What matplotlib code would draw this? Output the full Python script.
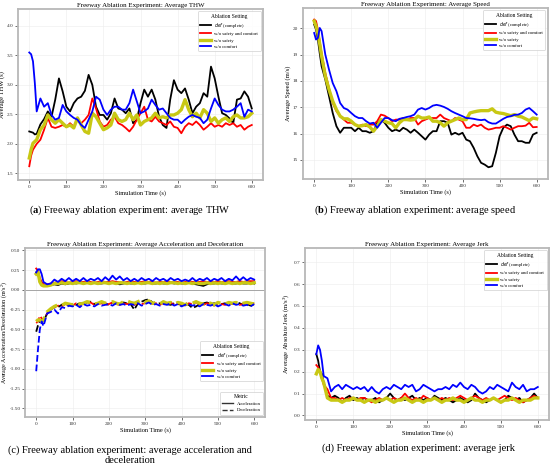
import numpy as np
import matplotlib
matplotlib.use('Agg')
import matplotlib.pyplot as plt
from matplotlib.lines import Line2D

plt.rcParams['font.family'] = ['Liberation Serif', 'DejaVu Sans']
plt.rcParams['mathtext.fontset'] = 'custom'
plt.rcParams['mathtext.rm'] = 'Liberation Serif'
plt.rcParams['mathtext.bf'] = 'Liberation Serif:bold'
plt.rcParams['mathtext.it'] = 'DejaVu Sans:italic'

# simulation time (s)
t = [0, 5, 10, 15] + list(range(20, 601, 10))

settings = ['$def$ (complete)', 'w/o safety and comfort', 'w/o safety', 'w/o comfort']
colors = ['black', 'red', '#c8c814', 'blue']
widths = [1.3, 1.3, 2.4, 1.3]

# (a) average THW
thw_def = [2.21, 2.20, 2.19, 2.16, 2.17, 2.33, 2.42, 2.55, 2.46, 2.75, 3.11, 2.89, 2.63, 2.55, 2.69,
           2.77, 2.80, 2.90, 3.17, 3.00, 2.63, 2.49, 2.49, 2.41, 2.52, 2.77, 2.60, 2.58, 2.52, 2.60,
           2.35, 2.41, 2.69, 2.92, 2.80, 2.92, 2.75, 2.46, 2.32, 2.27, 2.75, 3.08, 2.92, 2.86, 2.94,
           2.75, 2.52, 2.63, 2.69, 2.86, 2.80, 3.31, 3.11, 2.80, 2.52, 2.49, 2.43, 2.35, 2.75, 2.77,
           2.89, 2.80, 2.60]
thw_nosc = [1.62, 1.80, 1.90, 1.95, 2.00, 2.07, 2.24, 2.44, 2.29, 2.27, 2.29, 2.32, 2.29, 2.35, 2.29,
            2.41, 2.35, 2.41, 2.49, 2.77, 2.60, 2.38, 2.29, 2.32, 2.41, 2.46, 2.35, 2.32, 2.27, 2.21,
            2.29, 2.41, 2.52, 2.63, 2.41, 2.38, 2.46, 2.38, 2.35, 2.32, 2.38, 2.29, 2.27, 2.18, 2.29,
            2.35, 2.32, 2.38, 2.32, 2.24, 2.29, 2.35, 2.29, 2.32, 2.29, 2.35, 2.32, 2.35, 2.29, 2.32,
            2.24, 2.29, 2.32]
thw_nos = [1.76, 1.90, 2.01, 2.04, 2.07, 2.24, 2.32, 2.49, 2.41, 2.35, 2.41, 2.35, 2.29, 2.32, 2.27,
           2.44, 2.32, 2.21, 2.18, 2.52, 2.46, 2.35, 2.24, 2.27, 2.32, 2.52, 2.41, 2.38, 2.41, 2.52,
           2.41, 2.49, 2.32, 2.38, 2.41, 2.44, 2.52, 2.44, 2.46, 2.44, 2.49, 2.49, 2.52, 2.58, 2.75,
           2.58, 2.46, 2.52, 2.44, 2.58, 2.52, 2.38, 2.44, 2.35, 2.41, 2.44, 2.38, 2.46, 2.49, 2.44,
           2.44, 2.46, 2.52]
thw_noc = [3.55, 3.52, 3.40, 3.03, 2.55, 2.77, 2.63, 2.69, 2.49, 2.41, 2.44, 2.66, 2.55, 2.49, 2.44,
           2.41, 2.32, 2.27, 2.41, 2.55, 2.80, 2.75, 2.58, 2.49, 2.58, 2.63, 2.63, 2.58, 2.58, 2.69,
           2.92, 2.72, 2.52, 2.55, 2.60, 2.75, 2.66, 2.58, 2.60, 2.52, 2.44, 2.41, 2.41, 2.35, 2.41,
           2.46, 2.49, 2.46, 2.44, 2.35, 2.41, 2.60, 2.77, 2.66, 2.58, 2.55, 2.55, 2.58, 2.63, 2.69,
           2.46, 2.58, 2.55]

# (b) average speed
spd_def = [20.14, 19.95, 19.57, 19.05, 18.56, 18.05, 17.42, 16.78, 16.28, 16.03, 16.22, 16.22, 16.22,
           16.09, 16.22, 16.09, 16.09, 16.03, 16.09, 16.41, 16.53, 16.41, 16.22, 16.09, 16.15, 16.09,
           16.22, 16.15, 16.03, 16.15, 16.03, 15.90, 15.77, 15.96, 16.09, 16.09, 16.47, 16.47, 16.41,
           15.96, 16.03, 15.96, 16.03, 15.77, 15.71, 15.46, 15.14, 14.89, 14.82, 14.72, 14.76, 15.27,
           15.90, 16.22, 16.34, 16.28, 15.96, 15.71, 15.71, 15.65, 15.65, 15.96, 16.03]
spd_nosc = [20.33, 20.27, 19.95, 19.50, 19.06, 18.30, 17.73, 17.16, 16.85, 16.66, 16.53, 16.41, 16.41,
            16.34, 16.28, 16.34, 16.28, 16.34, 16.34, 16.47, 16.72, 16.68, 16.59, 16.47, 16.53, 16.53,
            16.59, 16.53, 16.59, 16.59, 16.34, 16.47, 16.53, 16.59, 16.59, 16.59, 16.72, 16.59, 16.53,
            16.47, 16.59, 16.53, 16.47, 16.22, 16.22, 16.34, 16.28, 16.34, 16.22, 16.15, 16.18, 16.22,
            16.22, 16.28, 16.22, 16.15, 16.22, 16.28, 16.28, 16.30, 16.41, 16.24, 16.25]
spd_nos = [20.27, 20.08, 19.82, 19.40, 18.94, 18.18, 17.67, 17.23, 16.91, 16.66, 16.56, 16.56, 16.47,
           16.34, 16.28, 16.30, 16.34, 16.25, 16.09, 16.28, 16.53, 16.47, 16.41, 16.38, 16.22, 16.41,
           16.53, 16.53, 16.51, 16.53, 16.66, 16.59, 16.59, 16.63, 16.47, 16.47, 16.41, 16.28, 16.41,
           16.47, 16.53, 16.59, 16.53, 16.53, 16.78, 16.82, 16.85, 16.87, 16.87, 16.87, 16.94, 16.81,
           16.78, 16.76, 16.72, 16.68, 16.72, 16.66, 16.63, 16.56, 16.49, 16.59, 16.56]
spd_noc = [19.82, 19.57, 19.63, 20.01, 19.89, 19.00, 18.43, 17.92, 17.61, 17.16, 16.97, 16.91, 16.78,
           16.66, 16.59, 16.59, 16.47, 16.38, 16.41, 16.22, 16.41, 16.59, 16.59, 16.51, 16.47, 16.56,
           16.59, 16.63, 16.66, 16.72, 16.91, 16.97, 16.91, 16.97, 17.06, 17.09, 17.06, 17.01, 16.94,
           16.85, 16.78, 16.72, 16.66, 16.59, 16.58, 16.56, 16.53, 16.51, 16.53, 16.43, 16.38, 16.38,
           16.47, 16.56, 16.63, 16.66, 16.71, 16.72, 16.78, 16.91, 16.97, 16.85, 16.72]

# (c) average acceleration (positive) and deceleration (negative)
acc_def = [0.22, 0.22, 0.10, 0.07, 0.05, 0.06, 0.06,
           0.07, 0.06, 0.08, 0.07, 0.08, 0.09, 0.08, 0.09, 0.08, 0.09, 0.08, 0.09, 0.08, 0.08,
           0.09, 0.08, 0.09, 0.08, 0.07, 0.08, 0.09, 0.08, 0.08, 0.09, 0.08, 0.08, 0.09, 0.08,
           0.08, 0.09, 0.08, 0.08, 0.09, 0.08, 0.09, 0.08, 0.08, 0.09, 0.08, 0.07, 0.06, 0.05,
           0.07, 0.08, 0.08, 0.09, 0.08, 0.08, 0.09, 0.08, 0.08, 0.09, 0.08, 0.08, 0.09, 0.08]
acc_nosc = [0.27, 0.24, 0.15, 0.10, 0.07, 0.07, 0.08,
            0.09, 0.10, 0.11, 0.10, 0.09, 0.10, 0.11, 0.10, 0.10, 0.11, 0.10, 0.09, 0.10, 0.11,
            0.10, 0.10, 0.11, 0.10, 0.10, 0.09, 0.10, 0.11, 0.10, 0.10, 0.10, 0.11, 0.10, 0.10,
            0.09, 0.10, 0.10, 0.11, 0.10, 0.10, 0.10, 0.09, 0.10, 0.11, 0.10, 0.10, 0.10, 0.11,
            0.10, 0.10, 0.10, 0.11, 0.10, 0.10, 0.11, 0.10, 0.10, 0.11, 0.10, 0.11, 0.11, 0.11]
acc_nos = [0.20, 0.22, 0.10, 0.06, 0.05, 0.05, 0.06,
           0.08, 0.08, 0.09, 0.08, 0.09, 0.08, 0.09, 0.09, 0.08, 0.09, 0.08, 0.09, 0.08, 0.09,
           0.09, 0.08, 0.09, 0.08, 0.09, 0.09, 0.08, 0.09, 0.08, 0.09, 0.08, 0.09, 0.09, 0.08,
           0.09, 0.08, 0.09, 0.08, 0.09, 0.09, 0.08, 0.09, 0.08, 0.09, 0.08, 0.09, 0.08, 0.08,
           0.09, 0.08, 0.09, 0.08, 0.09, 0.08, 0.09, 0.08, 0.09, 0.08, 0.09, 0.09, 0.08, 0.09]
acc_noc = [0.22, 0.26, 0.26, 0.20, 0.10, 0.07, 0.08,
           0.13, 0.10, 0.14, 0.11, 0.15, 0.11, 0.14, 0.11, 0.15, 0.11, 0.14, 0.12, 0.15, 0.11,
           0.16, 0.12, 0.18, 0.13, 0.17, 0.12, 0.15, 0.11, 0.14, 0.11, 0.15, 0.12, 0.14, 0.11,
           0.15, 0.12, 0.14, 0.11, 0.15, 0.12, 0.14, 0.11, 0.13, 0.11, 0.15, 0.11, 0.14, 0.12,
           0.15, 0.11, 0.14, 0.12, 0.15, 0.11, 0.14, 0.12, 0.17, 0.12, 0.16, 0.12, 0.15, 0.13]
dec_def = [-0.53, -0.45, -0.40, -0.38, -0.40, -0.30, -0.25,
           -0.22, -0.22, -0.19, -0.17, -0.20, -0.18, -0.19, -0.17, -0.18, -0.16,
           -0.15, -0.18, -0.17, -0.16, -0.17, -0.19, -0.16, -0.17, -0.18, -0.16,
           -0.17, -0.18, -0.25, -0.17, -0.15, -0.13, -0.12, -0.16, -0.18, -0.17,
           -0.16, -0.18, -0.19, -0.17, -0.18, -0.19, -0.17, -0.19, -0.23, -0.21,
           -0.18, -0.17, -0.16, -0.18, -0.17, -0.19, -0.18, -0.17, -0.16, -0.18,
           -0.15, -0.17, -0.19, -0.18, -0.20, -0.18]
dec_nosc = [-0.42, -0.40, -0.33, -0.36, -0.38, -0.30, -0.25,
            -0.22, -0.20, -0.21, -0.18, -0.19, -0.20, -0.17, -0.19, -0.18, -0.17,
            -0.16, -0.19, -0.18, -0.17, -0.19, -0.18, -0.16, -0.18, -0.19, -0.17,
            -0.18, -0.17, -0.19, -0.16, -0.18, -0.17, -0.15, -0.18, -0.17, -0.19,
            -0.17, -0.18, -0.16, -0.19, -0.17, -0.18, -0.20, -0.17, -0.18, -0.16,
            -0.18, -0.19, -0.17, -0.18, -0.20, -0.17, -0.18, -0.19, -0.17, -0.18,
            -0.17, -0.19, -0.18, -0.17, -0.18, -0.17]
dec_nos = [-0.40, -0.38, -0.38, -0.40, -0.38, -0.28, -0.24,
           -0.21, -0.19, -0.20, -0.17, -0.18, -0.19, -0.16, -0.18, -0.17, -0.15,
           -0.16, -0.18, -0.17, -0.15, -0.17, -0.16, -0.15, -0.17, -0.18, -0.15,
           -0.14, -0.16, -0.17, -0.15, -0.13, -0.16, -0.14, -0.17, -0.16, -0.18,
           -0.15, -0.17, -0.16, -0.18, -0.16, -0.17, -0.19, -0.16, -0.17, -0.15,
           -0.17, -0.18, -0.16, -0.17, -0.19, -0.16, -0.17, -0.18, -0.16, -0.17,
           -0.16, -0.18, -0.17, -0.16, -0.17, -0.18]
dec_noc = [-1.03, -0.75, -0.50, -0.40, -0.46, -0.30, -0.28,
           -0.25, -0.30, -0.22, -0.23, -0.20, -0.21, -0.19, -0.22, -0.18, -0.20,
           -0.19, -0.21, -0.18, -0.20, -0.19, -0.18, -0.20, -0.17, -0.19, -0.18,
           -0.20, -0.18, -0.19, -0.17, -0.20, -0.18, -0.16, -0.19, -0.18, -0.20,
           -0.18, -0.19, -0.17, -0.20, -0.18, -0.21, -0.19, -0.18, -0.20, -0.19,
           -0.21, -0.18, -0.19, -0.20, -0.18, -0.21, -0.19, -0.18, -0.20, -0.17,
           -0.19, -0.18, -0.20, -0.19, -0.21, -0.18]

# (d) average absolute jerk
jerk_def = [0.28, 0.25, 0.20, 0.19, 0.15, 0.09, 0.08,
            0.09, 0.08, 0.06, 0.08, 0.09, 0.07, 0.08, 0.07, 0.08, 0.07,
            0.07, 0.08, 0.06, 0.07, 0.08, 0.10, 0.08, 0.07, 0.08, 0.07,
            0.08, 0.09, 0.07, 0.08, 0.07, 0.08, 0.07, 0.09, 0.08, 0.07,
            0.08, 0.07, 0.06, 0.07, 0.08, 0.07, 0.06, 0.07, 0.10, 0.08,
            0.07, 0.06, 0.07, 0.08, 0.07, 0.06, 0.07, 0.09, 0.08, 0.07,
            0.08, 0.06, 0.07, 0.08, 0.10, 0.08]
jerk_nosc = [0.23, 0.22, 0.20, 0.17, 0.14, 0.12, 0.08,
             0.08, 0.07, 0.08, 0.07, 0.08, 0.08, 0.07, 0.08, 0.08, 0.07,
             0.06, 0.07, 0.08, 0.07, 0.08, 0.07, 0.08, 0.07, 0.08, 0.10,
             0.08, 0.07, 0.08, 0.07, 0.09, 0.08, 0.07, 0.08, 0.07, 0.08,
             0.07, 0.08, 0.07, 0.08, 0.09, 0.08, 0.07, 0.08, 0.09, 0.08,
             0.07, 0.08, 0.07, 0.08, 0.07, 0.08, 0.09, 0.08, 0.07, 0.08,
             0.07, 0.06, 0.07, 0.08, 0.09, 0.08]
jerk_nos = [0.19, 0.21, 0.20, 0.17, 0.15, 0.08, 0.07,
            0.07, 0.07, 0.06, 0.07, 0.07, 0.08, 0.07, 0.07, 0.06, 0.07,
            0.07, 0.06, 0.07, 0.07, 0.08, 0.07, 0.06, 0.07, 0.07, 0.08,
            0.07, 0.06, 0.07, 0.07, 0.06, 0.07, 0.07, 0.08, 0.07, 0.06,
            0.07, 0.07, 0.08, 0.07, 0.07, 0.06, 0.07, 0.08, 0.07, 0.07,
            0.06, 0.07, 0.07, 0.08, 0.07, 0.06, 0.07, 0.07, 0.08, 0.07,
            0.06, 0.07, 0.07, 0.07, 0.08, 0.08]
jerk_noc = [0.28, 0.32, 0.30, 0.25, 0.18, 0.17, 0.11,
            0.13, 0.14, 0.12, 0.14, 0.13, 0.12, 0.13, 0.12, 0.13, 0.11,
            0.13, 0.11, 0.10, 0.12, 0.13, 0.12, 0.14, 0.13, 0.12, 0.14,
            0.13, 0.14, 0.11, 0.12, 0.14, 0.13, 0.12, 0.11, 0.12, 0.12,
            0.13, 0.12, 0.14, 0.13, 0.15, 0.13, 0.12, 0.14, 0.13, 0.11,
            0.10, 0.11, 0.13, 0.12, 0.14, 0.13, 0.12, 0.11, 0.15, 0.13,
            0.12, 0.14, 0.11, 0.12, 0.12, 0.13]

captions = [r'($\mathbf{a}$) Freeway ablation experiment: average THW',
            r'($\mathbf{b}$) Freeway ablation experiment: average speed',
            '(c) Freeway ablation experiment: average acceleration and\ndeceleration',
            '(d) Freeway ablation experiment: average jerk']

fig = plt.figure(figsize=(5.5, 4.67), dpi=100)
ax_a = fig.add_axes([0.033, 0.615, 0.445, 0.366])
ax_b = fig.add_axes([0.551, 0.617, 0.445, 0.366])
ax_c = fig.add_axes([0.046, 0.107, 0.436, 0.362])
ax_d = fig.add_axes([0.555, 0.101, 0.443, 0.368])


def style(ax, title, ylabel, ylabel_size=4.8):
    ax.set_title(title, fontsize=5.0, pad=1.5)
    ax.set_xlabel('Simulation Time (s)', fontsize=4.6, labelpad=1)
    ax.set_ylabel(ylabel, fontsize=ylabel_size, labelpad=1.0)
    ax.tick_params(labelsize=3.8, length=2, width=0.5, pad=1.5, colors='#333333')
    ax.grid(True, color='#ececec', lw=0.4)
    ax.set_axisbelow(True)
    for s in ax.spines.values():
        s.set_color('#b8b8b8')
        s.set_linewidth(1.3)
    ax.set_xlim(-30, 630)
    ax.set_xticks(range(0, 601, 100))


def setting_legend(ax, loc, anchor=None):
    leg = ax.legend(loc=loc, bbox_to_anchor=anchor, title='Ablation Setting', fontsize=3.4,
                    title_fontsize=4.0, handlelength=2.2, labelspacing=0.45, borderpad=0.5,
                    framealpha=0.9, edgecolor='#cccccc', fancybox=True)
    leg.get_frame().set_linewidth(0.5)
    return leg


# (a)
for y, c, lw, lab in zip([thw_def, thw_nosc, thw_nos, thw_noc], colors, widths, settings):
    ax_a.plot(t, y, color=c, lw=lw, label=lab)
ax_a.set_ylim(1.39, 4.29)
ax_a.set_yticks([1.5, 2.0, 2.5, 3.0, 3.5, 4.0])
style(ax_a, 'Freeway Ablation Experiment: Average THW', 'Average THW (s)')
setting_legend(ax_a, 'upper right')

# (b)
for y, c, lw, lab in zip([spd_def, spd_nosc, spd_nos, spd_noc], colors, widths, settings):
    ax_b.plot(t, y, color=c, lw=lw, label=lab)
ax_b.set_ylim(14.28, 20.77)
ax_b.set_yticks([15, 16, 17, 18, 19, 20])
style(ax_b, 'Freeway Ablation Experiment: Average Speed', 'Average Speed (m/s)')
setting_legend(ax_b, 'upper right')

# (c)
ax_c.axhline(0, color='#999999', lw=0.6)
for ya, yd, c, lw, lab in zip([acc_def, acc_nosc, acc_nos, acc_noc],
                              [dec_def, dec_nosc, dec_nos, dec_noc], colors, widths, settings):
    ax_c.plot(t, ya, color=c, lw=lw, label=lab)
    ax_c.plot(t, yd, color=c, lw=lw, ls='--')
ax_c.set_ylim(-1.61, 0.53)
ax_c.set_yticks(np.arange(-1.5, 0.51, 0.25))
ax_c.yaxis.set_major_formatter(matplotlib.ticker.FormatStrFormatter('%.2f'))
style(ax_c, 'Freeway Ablation Experiment: Average Acceleration and Deceleration',
      'Average Acceleration/Deceleration (m/s$^2$)', ylabel_size=4.3)
ax_c.yaxis.labelpad = 0.3
leg1 = setting_legend(ax_c, 'center right', (1.0, 0.33))
ax_c.add_artist(leg1)
metric_handles = [Line2D([], [], color='#333333', lw=1.0),
                  Line2D([], [], color='#333333', lw=1.0, ls='--')]
leg2 = ax_c.legend(metric_handles, ['Acceleration', 'Deceleration'], loc='lower right',
                   title='Metric', fontsize=3.4, title_fontsize=4.0, handlelength=2.2,
                   labelspacing=0.45, borderpad=0.5, framealpha=0.9, edgecolor='#cccccc')
leg2.get_frame().set_linewidth(0.5)

# (d)
for y, c, lw, lab in zip([jerk_def, jerk_nosc, jerk_nos, jerk_noc], colors, widths, settings):
    ax_d.plot(t, y, color=c, lw=lw, label=lab)
ax_d.set_ylim(-0.02, 0.765)
ax_d.set_yticks([0.0, 0.1, 0.2, 0.3, 0.4, 0.5, 0.6, 0.7])
style(ax_d, 'Freeway Ablation Experiment: Average Jerk', 'Average Absolute Jerk (m/s$^3$)')
setting_legend(ax_d, 'upper right')

# captions
fig.text(0.236, 0.550, captions[0], ha='center', va='center', fontsize=7.5)
fig.text(0.755, 0.550, captions[1], ha='center', va='center', fontsize=7.5)
fig.text(0.236, 0.025, captions[2], ha='center', va='center', fontsize=7.5, linespacing=1.15)
fig.text(0.760, 0.041, captions[3], ha='center', va='center', fontsize=7.5)

fig.savefig('out.png', dpi=100)
